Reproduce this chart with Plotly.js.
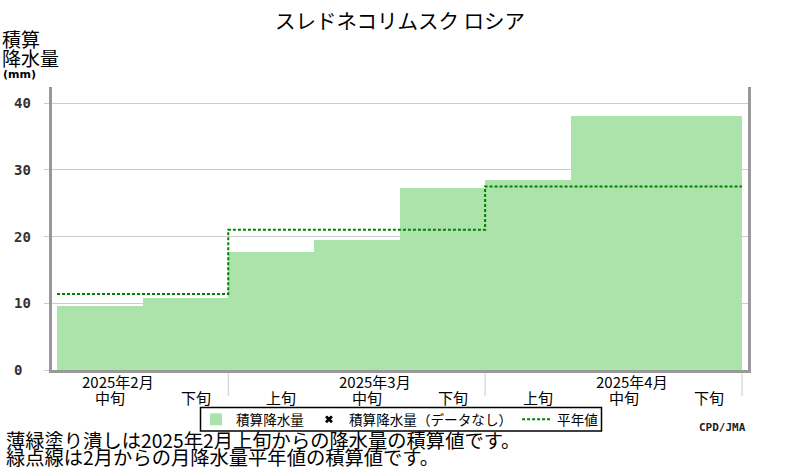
<!DOCTYPE html>
<html>
<head>
<meta charset="utf-8">
<script src="https://cdn.plot.ly/plotly-3.0.1.min.js"></script>
<style>
  html, body { margin: 0; padding: 0; background: #fff; }
  #chart { width: 800px; height: 470px; }
</style>
</head>
<body>
<div id="chart"></div>
<script>
// dekads from 2025 Feb mid to Apr late
const dekadLabels = ["中旬", "下旬", "上旬", "中旬", "下旬", "上旬", "中旬", "下旬"];
const monthLabels = ["2025年2月", "2025年3月", "2025年4月"];
const monthLabelAt = [0, 3, 6];        // dekad index under which the month label sits
const monthBounds = [1.5, 4.5, 7.5];   // separators between months
const accumPrecip = [9.6, 10.8, 17.7, 19.5, 27.3, 28.4, 38.0, 38.0];
const accumNormal = [11.4, 11.4, 21.0, 21.0, 21.0, 27.5, 27.5, 27.5];
const yTicks = [0, 10, 20, 30, 40];

const JP = '"Noto Sans CJK JP", "Noto Sans", sans-serif';
const idx = dekadLabels.map((_, i) => i);

// normal line as steps spanning the full width of each dekad
const stepX = [], stepY = [];
accumNormal.forEach((v, i) => { stepX.push(i - 0.5, i + 0.5); stepY.push(v, v); });

const traces = [
  {
    type: "bar", x: idx, y: accumPrecip, width: 1,
    marker: { color: "#abe3aa", line: { width: 0 } },
    name: "積算降水量", hoverinfo: "y"
  },
  {
    type: "scatter", mode: "markers", x: [null], y: [null],
    marker: { symbol: "x", size: 7, color: "#000" },
    name: "積算降水量（データなし）"
  },
  {
    type: "scatter", mode: "lines", x: stepX, y: stepY,
    line: { color: "#008000", width: 2, dash: "3px,2px" },
    name: "平年値", hoverinfo: "y"
  }
];

// paper helpers (plot area 52..748 x, 87..370 y)
const px = p => (p - 52) / 696;
const py = p => (370 - p) / 283;

const annotations = [];
yTicks.forEach(v => annotations.push({
  xref: "paper", yref: "y", x: px(12), y: v, xanchor: "left", yanchor: "middle",
  text: String(v), showarrow: false,
  font: { family: '"DejaVu Sans Mono", monospace', size: 14, color: "#333", weight: "bold" }
}));
dekadLabels.forEach((t, i) => annotations.push({
  xref: "x", yref: "paper", x: i + 0.12, y: py(397), xanchor: "center", yanchor: "middle",
  text: t, showarrow: false, font: { family: JP, size: 15, color: "#000" }
}));
monthLabels.forEach((t, k) => annotations.push({
  xref: "x", yref: "paper", x: monthLabelAt[k] + 0.21, y: py(381), xanchor: "center", yanchor: "middle",
  text: t, showarrow: false, font: { family: JP, size: 15, color: "#000" }
}));
annotations.push(
  { xref: "paper", yref: "paper", x: px(0), y: py(39), xanchor: "left", yanchor: "middle",
    text: "積算", showarrow: false, font: { family: JP, size: 19, color: "#000" } },
  { xref: "paper", yref: "paper", x: px(0), y: py(58), xanchor: "left", yanchor: "middle",
    text: "降水量", showarrow: false, font: { family: JP, size: 19, color: "#000" } },
  { xref: "paper", yref: "paper", x: px(1), y: py(74.5), xanchor: "left", yanchor: "middle",
    text: "(mm)", showarrow: false, font: { family: '"DejaVu Sans", sans-serif', size: 11, color: "#000", weight: "bold" } },
  { xref: "paper", yref: "paper", x: px(748), y: py(427), xanchor: "right", yanchor: "middle",
    text: "CPD/JMA", showarrow: false, font: { family: '"DejaVu Sans Mono", monospace', size: 11, color: "#222", weight: "bold" } },
  { xref: "paper", yref: "paper", x: px(4), y: py(440), xanchor: "left", yanchor: "middle",
    text: "薄緑塗り潰しは2025年2月上旬からの降水量の積算値です。", showarrow: false,
    font: { family: JP, size: 19.3, color: "#000" } },
  { xref: "paper", yref: "paper", x: px(4), y: py(456.5), xanchor: "left", yanchor: "middle",
    text: "緑点線は2月からの月降水量平年値の積算値です。", showarrow: false,
    font: { family: JP, size: 19.3, color: "#000" } }
);

const shapes = monthBounds.map(b => ({
  type: "line", xref: "x", yref: "paper", x0: b, x1: b, y0: py(373), y1: py(396),
  line: { color: "#cccccc", width: 1 }
}));
// frame around the legend
shapes.push({
  type: "rect", xref: "paper", yref: "paper", x0: px(200.5), x1: px(601.5), y0: py(407.5), y1: py(431),
  line: { color: "#000", width: 1.5 }, fillcolor: "rgba(0,0,0,0)", layer: "above"
});

const layout = {
  width: 800, height: 470,
  margin: { l: 52, r: 52, t: 87, b: 100 },
  paper_bgcolor: "#fff", plot_bgcolor: "#fff",
  title: { text: "スレドネコリムスク ロシア", x: 0.5, xanchor: "center", y: 1 - 22 / 470, yanchor: "middle",
           font: { family: JP, size: 20.5, color: "#000" } },
  showlegend: true,
  legend: {
    orientation: "h", x: 0.5, xanchor: "center", y: py(419.5), yanchor: "middle",
    borderwidth: 0, bgcolor: "rgba(0,0,0,0)",
    font: { family: JP, size: 13.6, color: "#000" },
    itemwidth: 30, tracegroupgap: 0, traceorder: "normal"
  },
  bargap: 0,
  xaxis: {
    range: [-0.5 - 5 / 85.625, 7.5 + 6 / 85.625],
    showgrid: false, zeroline: false, showticklabels: false, ticks: "",
    showline: true, linecolor: "#999", linewidth: 3, fixedrange: true
  },
  yaxis: {
    range: [0, 42.4], tickvals: yTicks, showticklabels: false,
    showgrid: true, gridcolor: "#cccccc", gridwidth: 1, zeroline: false,
    ticks: "outside", ticklen: 5, tickcolor: "#cccccc",
    showline: true, linecolor: "#999", linewidth: 3, mirror: true, fixedrange: true
  },
  annotations, shapes
};

Plotly.newPlot("chart", traces, layout, { displayModeBar: false, staticPlot: true });
</script>
</body>
</html>
